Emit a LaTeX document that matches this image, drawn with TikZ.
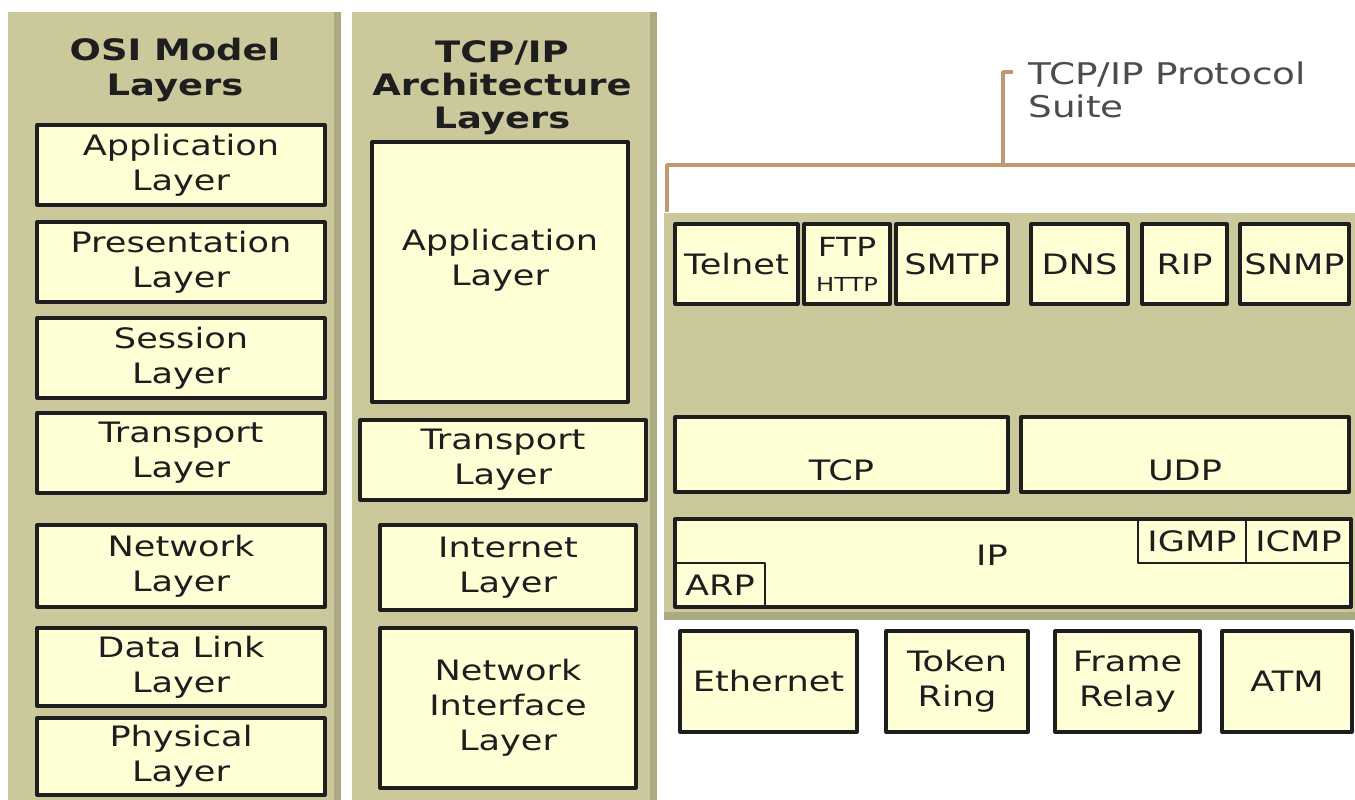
\documentclass[tikz,border=0pt]{standalone}
\usepackage{fontspec}
\setmainfont{DejaVu Sans}[FakeStretch=1.25]
\definecolor{khaki}{RGB}{203,201,155}
\definecolor{khakidark}{RGB}{172,170,128}
\definecolor{cream}{RGB}{255,255,214}
\definecolor{tan}{RGB}{192,152,114}
\definecolor{ink}{RGB}{30,30,30}

\begin{document}
\begin{tikzpicture}[x=.1mm, y=-.1mm, font=\fontsize{8}{10}\selectfont, text=ink, line join=round,
	layer/.style={draw=ink, fill=cream, line width=.9pt, inner sep=0pt, align=center},
	thinbox/.style={draw=ink, line width=.5pt, inner sep=0pt},
	span/.style args={#1:#2:#3:#4}{at={({(#1+#3)/2},{(#2+#4)/2})}, minimum width={(#3-#1)*.1mm}, minimum height={(#4-#2)*.1mm}},
	title/.style={font=\fontsize{8.4}{9.4}\selectfont\bfseries, align=center}]
	\useasboundingbox[fill=white] (0,0) rectangle (1355,800);
	% panels
	\fill[khaki] (8,12) rectangle (341,800);
	\fill[khakidark] (334,12) rectangle (341,800);
	\fill[khaki] (352,12) rectangle (657,800);
	\fill[khakidark] (650,12) rectangle (657,800);
	\fill[khaki] (664,213) rectangle (1355,620);
	\fill[khakidark] (664,612) rectangle (1355,620);
	\node[title, font=\fontsize{8.4}{10.2}\selectfont\bfseries] (osititle) at (175,70) {OSI Model\\Layers};
	\node[title] (tcptitle) at (502,88) {TCP/IP\\Architecture\\Layers};
	% OSI model
	\foreach \a/\b/\t/\n in {125/205/Application/app, 222/302/Presentation/pres, 318/398/Session/ses, 413/493/Transport/trans, 525/607/Network/net, 628/706/Data Link/dl, 718/795/Physical/phy}
		\node[layer, span=37:\a:325:\b] (osi-\n) {\t\\Layer};
	% TCP/IP architecture
	\node[layer, span=372:142:628:402] (arch-app) {};
	\node[align=center] (arch-applbl) at (500,260) {Application\\Layer};
	\node[layer, span=360:420:646:500] (arch-trans) {Transport\\Layer};
	\node[layer, span=380:525:636:610] (arch-inet) {Internet\\Layer};
	\node[layer, span=380:628:636:788] (arch-nif) {Network\\Interface\\Layer};
	% protocol suite
	\coordinate (brl) at (667,212);
	\coordinate (brr) at (1355,165);
	\coordinate (stem) at (1003,165);
	\coordinate (tick) at (1013,72);
	\node[anchor=west, align=left, text=black!70, font=\fontsize{8.5}{9.6}\selectfont] (suite) at (1016,90) {TCP/IP Protocol\\Suite};
	\draw[tan, line width=1pt] (brl) |- (brr);
	\draw[tan, line width=1pt] (stem) |- (tick);
	\foreach \a/\b/\t/\n in {675/798/Telnet/telnet, 896/1008/SMTP/smtp, 1031/1128/DNS/dns, 1142/1227/RIP/rip, 1240/1349/SNMP/snmp}
		\node[layer, span=\a:224:\b:304] (\n) {\t};
	\node[layer, span=804:224:890:304] (ftp) {{\fontsize{7.5}{8}\selectfont FTP}\\{\fontsize{5.5}{7}\selectfont HTTP}};
	\node[layer, span=675:417:1008:492] (tcp) {};
	\node[anchor=south] (tcplbl) at (tcp.south) {TCP};
	\node[layer, span=1021:417:1349:492] (udp) {};
	\node[anchor=south] (udplbl) at (udp.south) {UDP};
	\node[layer, span=675:519:1351:607] (ip) {};
	\node (iplbl) at (992,555) {IP};
	\node[thinbox, span=1138:519:1246:563] (igmp) {IGMP};
	\node[thinbox, span=1246:519:1351:563] (icmp) {ICMP};
	\node[thinbox, line width=.7pt, span=675:563:765:607] (arp) {ARP};
	% network access
	\node[layer, span=680:631:857:732] (eth) {Ethernet};
	\node[layer, span=886:631:1028:732] (token) {Token\\Ring};
	\node[layer, span=1055:631:1200:732] (frame) {Frame\\Relay};
	\node[layer, span=1222:631:1352:732] (atm) {ATM};
\end{tikzpicture}
\end{document}
